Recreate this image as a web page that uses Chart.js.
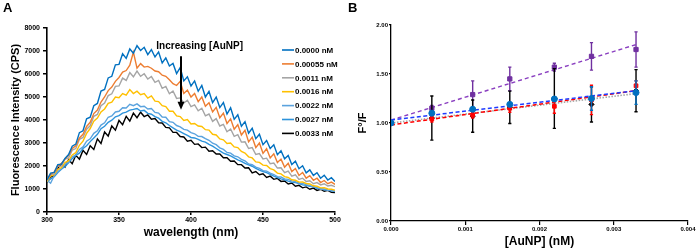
<!DOCTYPE html>
<html><head><meta charset="utf-8">
<script src="https://cdn.jsdelivr.net/npm/chart.js@4/dist/chart.umd.min.js"></script>
<style>
html,body{margin:0;padding:0;background:#fff;width:697px;height:249px;overflow:hidden}
#ca{position:absolute;left:0;top:0}
#cb{position:absolute;left:345px;top:0}
</style></head><body>
<canvas id="ca" width="345" height="249"></canvas>
<canvas id="cb" width="352" height="249"></canvas>
<script>
// ---------- Panel A data ----------
const wavelengths = [300,302.5,305,307.5,310,312.5,315,317.5,320,322.5,325,327.5,330,332.5,335,337.5,340,342.5,345,347.5,350,352.5,355,357.5,360,362.5,365,367.5,370,372.5,375,377.5,380,382.5,385,387.5,390,392.5,395,397.5,400,402.5,405,407.5,410,412.5,415,417.5,420,422.5,425,427.5,430,432.5,435,437.5,440,442.5,445,447.5,450,452.5,455,457.5,460,462.5,465,467.5,470,472.5,475,477.5,480,482.5,485,487.5,490,492.5,495,497.5,500];
const seriesLabels = ["0.0000 nM","0.00055 nM","0.0011 nM","0.0016 nM","0.0022 nM","0.0027 nM","0.0033 nM"];
const s0000 = [1400,1690,1720,2060,2080,2330,2500,2860,2950,3450, 3530,4050,4120,4620,4720,5260,5330,5830,5900,6400, 6420,6880,6680,7090,6900,7230,7020,7160,6840,7060, 6740,6960,6480,6700,6350,6460,6020,6280,5700,5880, 5480,5700,5250,5500,5000,5240,4760,5000,4540,4760, 4260,4530,4030,4230,3730,3930,3430,3640,3190,3380, 2930,3110,2760,2920,2490,2660,2310,2460,2060,2210, 1880,2010,1700,1830,1590,1710,1470,1600,1390,1490, 1330];
const s00055 = [1380,1640,1740,2000,2110,2300,2460,2760,2880,3220, 3380,3720,3900,4280,4430,4780,5000,5280,5430,5680, 5850,6080,6150,6380,6950,6250,6450,6300,6330,6250, 6130,6100,5950,5900,5750,5580,5500,5680,5150,5300, 5000,5150,4800,5000,4600,4750,4350,4550,4100,4300, 3850,4050,3600,3800,3350,3550,3050,3250,2800,3000, 2550,2750,2350,2530,2150,2300,1950,2120,1760,1890, 1590,1720,1470,1580,1380,1470,1280,1370,1230,1300, 1200];
const s0011 = [1380,1630,1660,1990,2000,2300,2350,2690,2760,3160, 3240,3600,3750,4160,4240,4620,4740,5060,5140,5460, 5480,5820,5720,6060,5880,6130,5900,6010,5780,5890, 5640,5720,5380,5460,5140,5260,4940,4960,4740,4860, 4580,4660,4400,4510,4180,4260,3940,4060,3740,3810, 3490,3610,3290,3360,3040,3050,2760,2800,2500,2540, 2310,2340,2100,2130,1910,1920,1710,1780,1560,1620, 1420,1470,1330,1360,1230,1280,1180,1230,1130,1160, 1100];
const s0016 = [1330,1560,1620,1850,1930,2150,2230,2480,2580,2900, 3080,3420,3630,3950,4080,4350,4480,4720,4780,5000, 4970,5150,5080,5320,5150,5250,5100,5150,4950,5050, 4820,4800,4620,4580,4380,4380,4180,4150,3980,4020, 3830,3850,3740,3720,3580,3560,3380,3350,3180,3140, 2980,3000,2830,2800,2630,2560,2400,2350,2180,2160, 2040,2020,1890,1830,1690,1660,1540,1500,1400,1380, 1300,1310,1240,1220,1140,1120,1050,1060,1000,990, 950];
const s0022 = [1380,1250,1580,1760,1880,2080,2180,2400,2480,2720, 2830,3080,3180,3420,3530,3780,3880,4120,4180,4350, 4380,4530,4520,4680,4620,4700,4580,4600,4480,4500, 4330,4300,4130,4120,3930,3900,3760,3700,3590,3560, 3450,3400,3290,3280,3190,3120,2990,2930,2790,2720, 2590,2560,2440,2400,2290,2220,2090,2060,1950,1900, 1800,1780,1690,1630,1540,1520,1440,1420,1350,1320, 1250,1240,1190,1150,1100,1060,990,1000,940,930, 900];
const s0027 = [1320,1440,1530,1720,1860,1980,2140,2320,2460,2560, 2760,2880,3060,3220,3380,3620,3730,3900,3990,4140, 4190,4300,4340,4430,4460,4500,4390,4420,4290,4250, 4150,4080,3940,3880,3760,3660,3560,3490,3410,3330, 3240,3220,3160,3080,3040,2940,2860,2760,2660,2560, 2500,2440,2350,2270,2200,2110,2050,1990,1900,1820, 1760,1710,1640,1560,1500,1440,1400,1340,1300,1280, 1240,1180,1160,1120,1100,1030,1010,970,950,920, 890];
const s0033 = [1300,1520,1600,1900,2100,1950,2280,2100,2470,2300, 2680,2500,2880,2720,3180,2980,3480,3300,3740,3560, 3980,3800,4160,3950,4300,4100,4340,4150,4220,4030, 4060,3880,3870,3680,3660,3460,3460,3280,3260,3080, 3120,2940,2960,2800,2820,2640,2660,2520,2520,2360, 2360,2210,2220,2060,2060,1910,1920,1700,1760,1620, 1660,1500,1560,1420,1460,1330,1350,1220,1260,1120, 1160,1050,1090,990,1040,940,990,900,940,860, 850];
const seriesA = [s0000,s00055,s0011,s0016,s0022,s0027,s0033];
const colorsA = ["#0070C0","#ED7D31","#A5A5A5","#FFC000","#5BA3DE","#2D93DB","#000000"];
const arrowLabel = "Increasing [AuNP]";

// ---------- Panel B data ----------
const conc = [0, 0.00055, 0.0011, 0.0016, 0.0022, 0.0027, 0.0033];
const purpleY   = [1.00, 1.15, 1.29, 1.45, 1.57, 1.68, 1.75];
const purpleErr = [0, 0.03, 0.14, 0.12, 0.04, 0.14, 0.18];
const blackY    = [1.00, 1.05, 1.07, 1.16, 1.25, 1.19, 1.33];
const blackErr  = [0, 0.225, 0.165, 0.165, 0.305, 0.18, 0.215];
const redY      = [1.00, 1.04, 1.08, 1.15, 1.17, 1.235, 1.38];
const redErr    = [0, 0.03, 0.03, 0.04, 0.07, 0.15, 0.05];
const blueY     = [1.00, 1.10, 1.14, 1.19, 1.245, 1.25, 1.31];
const blueErr   = [0, 0.02, 0.02, 0.02, 0.02, 0.12, 0.12];
const trendX      = [0, 0.0033];
const purpleTrend = [1.03, 1.80];
const blueTrend   = [1.03, 1.33];
const redTrend    = [0.98, 1.33];
const blackTrend  = [1.00, 1.30];

const FONT = '"Liberation Sans", Arial, sans-serif';

// ---------- Panel A ----------
const annotA = {
  id:'annotA',
  afterDraw(chart){
    const {ctx, scales:{x,y}} = chart;
    ctx.save();
    ctx.fillStyle='#000';
    ctx.font='bold 13px '+FONT;
    ctx.textBaseline='alphabetic'; ctx.textAlign='left';
    ctx.fillText('A',3,12);
    ctx.font='bold 10px '+FONT;
    ctx.textAlign='center'; ctx.textBaseline='middle';
    ctx.fillText(arrowLabel, x.getPixelForValue(406), y.getPixelForValue(7200));
    const ax = Math.round(x.getPixelForValue(393.4)), ay1 = y.getPixelForValue(6770), ay2 = y.getPixelForValue(4450);
    ctx.strokeStyle='#000'; ctx.lineWidth=2;
    ctx.beginPath(); ctx.moveTo(ax,ay1); ctx.lineTo(ax,ay2-7); ctx.stroke();
    ctx.beginPath(); ctx.moveTo(ax-3.5,ay2-8); ctx.lineTo(ax+3.5,ay2-8); ctx.lineTo(ax,ay2); ctx.closePath(); ctx.fill();
    // legend
    ctx.font='bold 8px '+FONT; ctx.textAlign='left';
    chart.data.datasets.forEach((ds,i)=>{
      const yy = 50 + i*13.9;
      ctx.strokeStyle = ds.borderColor; ctx.lineWidth=1.6;
      ctx.beginPath(); ctx.moveTo(282,yy); ctx.lineTo(294,yy); ctx.stroke();
      ctx.fillStyle='#000';
      ctx.fillText(ds.label, 295, yy+0.5);
    });
    ctx.restore();
  }
};

new Chart(document.getElementById('ca'), {
  type:'line',
  data:{ datasets: seriesA.map((vals,i)=>({
    label: seriesLabels[i],
    data: wavelengths.map((w,j)=>({x:w,y:vals[j]})),
    borderColor: colorsA[i], borderWidth: 1.4, pointRadius:0, tension:0, fill:false
  })) },
  options:{
    responsive:false, animation:false, devicePixelRatio:1,
    layout:{padding:{left:0,top:28,right:10,bottom:0}},
    plugins:{legend:{display:false}, tooltip:{enabled:false}},
    scales:{
      x:{type:'linear', min:300, max:500,
         ticks:{stepSize:50, color:'#000', font:{family:FONT, size:7, weight:'bold'}, padding:1, maxRotation:0,
                callback:v=>String(v)},
         grid:{drawOnChartArea:false, drawTicks:true, tickLength:3, color:'#000', lineWidth:1.5},
         border:{color:'#000', width:1.6},
         title:{display:true, text:'wavelength (nm)', color:'#000', font:{family:FONT, size:12, weight:'bold'}, padding:{top:0,bottom:8.8}},
         afterFit:s=>{s.height=37;}
      },
      y:{min:0, max:8000,
         ticks:{stepSize:1000, color:'#000', font:{family:FONT, size:7, weight:'bold'}, padding:3,
                callback:v=>String(v)},
         grid:{drawOnChartArea:false, drawTicks:true, tickLength:4, color:'#000', lineWidth:1.5},
         border:{color:'#000', width:1.6},
         title:{display:true, text:'Fluorescence Intensity (CPS)', color:'#000', font:{family:FONT, size:11, weight:'bold'}, padding:{top:9.4,bottom:0}},
         afterFit:s=>{s.width=47;}
      }
    }
  },
  plugins:[annotA]
});

// ---------- Panel B ----------
const errorBars = {
  id:'errorBars',
  beforeDatasetDraw(chart, args){
    const ds = chart.data.datasets[args.index];
    if(!ds.errors) return;
    const {ctx, scales:{x,y}} = chart;
    ctx.save(); ctx.strokeStyle = ds.borderColor; ctx.lineWidth = 1.4;
    ds.data.forEach((p,i)=>{
      const e = ds.errors[i]; if(!e) return;
      const px = x.getPixelForValue(p.x), y1 = y.getPixelForValue(p.y+e), y2 = y.getPixelForValue(p.y-e);
      ctx.beginPath(); ctx.moveTo(px,y1); ctx.lineTo(px,y2);
      ctx.moveTo(px-1.6,y1); ctx.lineTo(px+1.6,y1);
      ctx.moveTo(px-1.6,y2); ctx.lineTo(px+1.6,y2);
      ctx.stroke();
    });
    ctx.restore();
  }
};
const labelB = {
  id:'labelB',
  afterDraw(chart){
    const ctx = chart.ctx; ctx.save();
    ctx.fillStyle='#000'; ctx.font='bold 13px '+FONT; ctx.textBaseline='alphabetic';
    ctx.fillText('B',3,12); ctx.restore();
  }
};
const pts = (ys)=>conc.map((c,i)=>({x:c,y:ys[i]}));
const tr = (ys)=>trendX.map((c,i)=>({x:c,y:ys[i]}));

new Chart(document.getElementById('cb'), {
  type:'scatter',
  data:{ datasets:[
    {data:pts(blueY), errors:blueErr, borderColor:'#0070C0', backgroundColor:'#0070C0', pointStyle:'circle', pointRadius:3, order:1},
    {data:tr(blueTrend), showLine:true, borderColor:'#1F3BFF', borderWidth:1.5, borderDash:[4,2.5], pointRadius:0, order:2},
    {data:pts(redY), errors:redErr, borderColor:'#FF0000', backgroundColor:'#FF0000', pointStyle:'rect', pointRadius:2.6, order:3},
    {data:tr(redTrend), showLine:true, borderColor:'#FF0000', borderWidth:1.5, borderDash:[4,2.5], pointRadius:0, order:4},
    {data:pts(blackY), errors:blackErr, borderColor:'#000000', backgroundColor:'#000000', pointStyle:'rectRot', pointRadius:2.6, order:5},
    {data:tr(blackTrend), showLine:true, borderColor:'#A6A6A6', borderWidth:1.6, borderDash:[1.5,1.5], pointRadius:0, order:6},
    {data:pts(purpleY), errors:purpleErr, borderColor:'#7030A0', backgroundColor:'#7030A0', pointStyle:'rect', pointRadius:3, order:7},
    {data:tr(purpleTrend), showLine:true, borderColor:'#8A3FC0', borderWidth:1.4, borderDash:[4,3], pointRadius:0, order:8}
  ]},
  options:{
    responsive:false, animation:false, devicePixelRatio:1,
    layout:{padding:{left:0,top:25,right:9,bottom:0}},
    plugins:{legend:{display:false}, tooltip:{enabled:false}},
    scales:{
      x:{type:'linear', min:0, max:0.004,
         ticks:{stepSize:0.001, color:'#000', font:{family:FONT, size:6, weight:'bold'}, padding:1, maxRotation:0,
                callback:v=>Number(v).toFixed(3)},
         grid:{drawOnChartArea:false, drawTicks:true, tickLength:4, color:'#000', lineWidth:1.2},
         border:{color:'#000', width:1.3},
         title:{display:true, text:'[AuNP] (nM)', color:'#000', font:{family:FONT, size:12, weight:'bold'}, padding:{top:0,bottom:0}},
         afterFit:s=>{s.height=28;}
      },
      y:{min:0, max:2,
         ticks:{stepSize:0.5, color:'#000', font:{family:FONT, size:6, weight:'bold'}, padding:1,
                callback:v=>Number(v).toFixed(2)},
         grid:{drawOnChartArea:false, drawTicks:true, tickLength:2, color:'#000', lineWidth:1.2},
         border:{color:'#000', width:1.3},
         title:{display:true, text:'F°/F', color:'#000', font:{family:FONT, size:11, weight:'bold'}, padding:{top:11.4,bottom:0}},
         afterFit:s=>{s.width=46;}
      }
    }
  },
  plugins:[errorBars, labelB]
});
</script>
</body></html>
